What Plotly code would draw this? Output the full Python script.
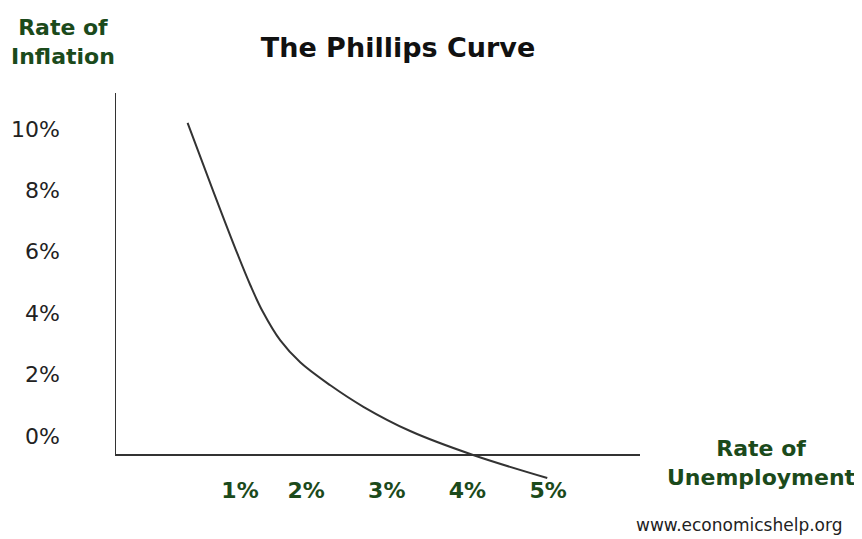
import plotly.graph_objects as go

# Phillips curve points (unemployment %, inflation %)
unemployment = [0.53, 0.85, 1.15, 1.31, 1.46, 1.68, 1.93, 2.30, 2.71, 3.29, 4.07, 4.99]
inflation = [10.20, 7.96, 5.92, 4.90, 4.06, 3.11, 2.39, 1.65, 0.95, 0.16, -0.62, -1.37]

# Axis ticks
x_tick_vals = [1.18, 2, 3, 4, 5]
x_tick_text = ["1%", "2%", "3%", "4%", "5%"]
y_tick_vals = [0, 2, 4, 6, 8, 10]
y_tick_text = ["0%", "2%", "4%", "6%", "8%", "10%"]

title_text = "The Phillips Curve"
y_label = "Rate of<br>Inflation"
x_label = "Rate of<br>Unemployment"
source_text = "www.economicshelp.org"

GREEN = "#1b4a1b"
DARK = "#222222"
FONT = "DejaVu Sans"

OFF = 8  # page body margin in the browser
W, H = 862 - OFF, 539 - OFF
L, R, T, B = 107, 222, 85, 57
pw, ph = W - L - R, H - T - B

X_RANGE = [-0.37, 6.14]
Y_RANGE = [-1.5, 11.17]
AXIS_Y = -0.62   # where the horizontal axis crosses


def px_to_paper(px, py):
    # px, py: page pixels of the reference picture
    return (px - OFF - L) / pw, (H - B - (py - OFF)) / ph


fig = go.Figure()
fig.add_trace(go.Scatter(
    x=unemployment, y=inflation, mode="lines",
    line=dict(color="#333333", width=2, shape="spline", smoothing=1.0),
    hoverinfo="skip", showlegend=False,
))

fig.update_layout(
    width=W, height=H,
    margin=dict(l=L, r=R, t=T, b=B, autoexpand=False),
    paper_bgcolor="white", plot_bgcolor="white",
    font=dict(family=FONT, color=DARK),
    title=dict(text="<b>%s</b>" % title_text, x=(398 - OFF) / W, xanchor="center",
               y=1 - (48 - OFF) / H, yanchor="middle",
               font=dict(family=FONT, size=27, color="#111111")),
    xaxis=dict(range=X_RANGE, showgrid=False, zeroline=False, automargin=False,
               anchor="free",
               position=(AXIS_Y - Y_RANGE[0]) / (Y_RANGE[1] - Y_RANGE[0]),
               showline=True, linecolor="#333333", linewidth=2,
               tickmode="array", tickvals=x_tick_vals,
               ticktext=["<b>%s</b>" % t for t in x_tick_text],
               ticks="", ticklabelstandoff=16,
               tickfont=dict(family=FONT, size=22, color=GREEN)),
    yaxis=dict(range=Y_RANGE, showgrid=False, zeroline=False, automargin=False,
               showline=False,
               tickmode="array", tickvals=y_tick_vals, ticktext=y_tick_text,
               ticks="", ticklabelstandoff=54,
               tickfont=dict(family=FONT, size=22, color=DARK)),
)

# vertical axis line, from the horizontal axis up to the top of the range
fig.add_shape(type="line", xref="x", yref="y",
              x0=X_RANGE[0], x1=X_RANGE[0], y0=AXIS_Y, y1=Y_RANGE[1],
              line=dict(color="#333333", width=2), layer="above")

ax, ay = px_to_paper(63, 42)
fig.add_annotation(x=ax, y=ay, xref="paper", yref="paper", text="<b>%s</b>" % y_label,
                   showarrow=False, xanchor="center", yanchor="middle", align="center",
                   font=dict(family=FONT, size=22, color=GREEN))
bx, by = px_to_paper(761, 463)
fig.add_annotation(x=bx, y=by, xref="paper", yref="paper", text="<b>%s</b>" % x_label,
                   showarrow=False, xanchor="center", yanchor="middle", align="center",
                   font=dict(family=FONT, size=22, color=GREEN))
sx, sy = px_to_paper(739, 525)
fig.add_annotation(x=sx, y=sy, xref="paper", yref="paper", text=source_text,
                   showarrow=False, xanchor="center", yanchor="middle",
                   font=dict(family=FONT, size=17, color=DARK))

fig.write_html("out.html")
